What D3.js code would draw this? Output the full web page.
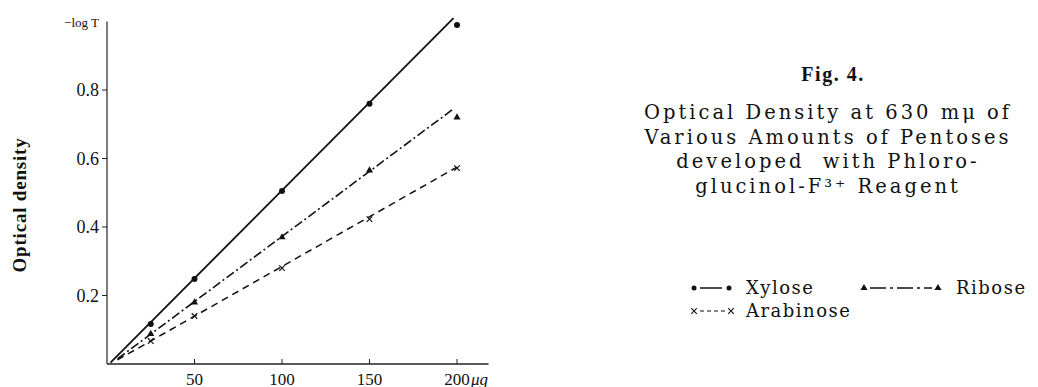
<!DOCTYPE html>
<html>
<head>
<meta charset="utf-8">
<script src="https://cdn.jsdelivr.net/npm/d3@7"></script>
<style>
  body { margin: 0; background: #fff; }
  svg { display: block; }
  text { font-family: "Liberation Serif", "DejaVu Serif", serif; fill: #111; }
  .cap { font-family: "DejaVu Serif", serif; }
</style>
</head>
<body>
<svg id="chart" width="1038" height="387"></svg>
<script>
const amounts = [25, 50, 100, 150, 200];
const xylose = [0.117, 0.248, 0.505, 0.76, 0.99];
const ribose = [0.088, 0.18, 0.37, 0.565, 0.72];
const arabinose = [0.067, 0.14, 0.28, 0.423, 0.572];

// drawn straight lines (start and end, in data units)
const xyloseFit = [[2, 0.004], [198, 1.01]];
const riboseFit = [[6, 0.015], [198, 0.745]];
const arabinoseFit = [[6, 0.012], [200, 0.575]];

const xTicks = [50, 100, 150, 200];
const yTicks = [0.2, 0.4, 0.6, 0.8];

const titleLines = [
    "Optical Density at 630 m\u03bc of",
    "Various Amounts of Pentoses",
    "developed  with Phloro-",
    "glucinol-F\u00b3\u207a Reagent"
];

const svg = d3.select('#chart');

const x = d3.scaleLinear().domain([0, 200]).range([107, 457]);
const y = d3.scaleLinear().domain([0, 1]).range([364, 21.5]);

// axes
svg.append('line')
    .attr('x1', x(0)).attr('x2', x(0))
    .attr('y1', y(0)).attr('y2', y(1))
    .attr('stroke', '#222').attr('stroke-width', 1.2);
svg.append('line')
    .attr('x1', x(0)).attr('x2', x(218))
    .attr('y1', y(0)).attr('y2', y(0))
    .attr('stroke', '#222').attr('stroke-width', 1.4);

svg.selectAll('.ytick')
    .data(yTicks)
    .enter().append('line')
    .attr('x1', x(0) - 5).attr('x2', x(0))
    .attr('y1', d => y(d)).attr('y2', d => y(d))
    .attr('stroke', '#222');

svg.selectAll('.ylab')
    .data(yTicks)
    .enter().append('text')
    .attr('x', x(0) - 8)
    .attr('y', d => y(d) + 6)
    .attr('text-anchor', 'end')
    .attr('font-size', 18)
    .text(d => d.toFixed(1));

svg.selectAll('.xtick')
    .data(xTicks)
    .enter().append('line')
    .attr('x1', d => x(d)).attr('x2', d => x(d))
    .attr('y1', y(0) - 5).attr('y2', y(0))
    .attr('stroke', '#222');

svg.selectAll('.xlab')
    .data(xTicks)
    .enter().append('text')
    .attr('x', d => x(d))
    .attr('y', 385)
    .attr('text-anchor', 'middle')
    .attr('font-size', 17)
    .text(d => d);

svg.append('text')
    .attr('x', x(200) + 14)
    .attr('y', 385)
    .attr('font-size', 17)
    .attr('font-style', 'italic')
    .text('\u03bcg');

svg.append('text')
    .attr('x', x(0) - 8)
    .attr('y', 27)
    .attr('text-anchor', 'end')
    .attr('font-size', 13)
    .attr('fill', '#444')
    .text('\u2212log T');

svg.append('text')
    .attr('transform', 'translate(26,205) rotate(-90)')
    .attr('text-anchor', 'middle')
    .attr('font-size', 19)
    .attr('font-weight', 'bold')
    .attr('letter-spacing', 0.8)
    .text('Optical density');

// lines
const line = d3.line().x(d => x(d[0])).y(d => y(d[1]));
svg.append('path').attr('d', line(xyloseFit))
    .attr('fill', 'none').attr('stroke', '#111').attr('stroke-width', 1.8);
svg.append('path').attr('d', line(riboseFit))
    .attr('fill', 'none').attr('stroke', '#111').attr('stroke-width', 1.6)
    .attr('stroke-dasharray', '9,3,2,3');
svg.append('path').attr('d', line(arabinoseFit))
    .attr('fill', 'none').attr('stroke', '#111').attr('stroke-width', 1.5)
    .attr('stroke-dasharray', '7,5');

// markers
svg.selectAll('.xy')
    .data(amounts)
    .enter().append('circle')
    .attr('cx', d => x(d))
    .attr('cy', (d, i) => y(xylose[i]))
    .attr('r', 3)
    .attr('fill', '#111');

const tri = d3.symbol().type(d3.symbolTriangle).size(22);
svg.selectAll('.ri')
    .data(amounts)
    .enter().append('path')
    .attr('d', tri)
    .attr('transform', (d, i) => `translate(${x(d)},${y(ribose[i])})`)
    .attr('fill', '#111');

const cross = d3.symbol().type(d3.symbolX).size(22);
svg.selectAll('.ar')
    .data(amounts)
    .enter().append('path')
    .attr('d', cross)
    .attr('transform', (d, i) => `translate(${x(d)},${y(arabinose[i])})`)
    .attr('stroke', '#111').attr('stroke-width', 1.2).attr('fill', 'none');

// caption
svg.append('text')
    .attr('x', 833).attr('y', 81)
    .attr('text-anchor', 'middle')
    .attr('font-size', 20)
    .attr('font-weight', 'bold')
    .attr('letter-spacing', 1.5)
    .text('Fig. 4.');

svg.selectAll('.capline')
    .data(titleLines)
    .enter().append('text')
    .attr('class', 'cap')
    .attr('x', 828)
    .attr('y', (d, i) => 119 + i * 24.5)
    .attr('text-anchor', 'middle')
    .attr('font-size', 19.5)
    .attr('letter-spacing', 3)
    .style('white-space', 'pre')
    .text(d => d);

// legend
const r1 = 288, r2 = 311;
const lg = svg.append('g');
lg.append('circle').attr('cx', 694).attr('cy', r1).attr('r', 2.5).attr('fill', '#111');
lg.append('line').attr('x1', 700).attr('x2', 722).attr('y1', r1).attr('y2', r1)
    .attr('stroke', '#111').attr('stroke-width', 1.5);
lg.append('circle').attr('cx', 729).attr('cy', r1).attr('r', 2.5).attr('fill', '#111');
lg.append('text').attr('class', 'cap').attr('x', 746).attr('y', r1 + 6).attr('font-size', 18)
    .attr('letter-spacing', 1.5).text('Xylose');

lg.append('path').attr('d', tri).attr('transform', `translate(864,${r1})`).attr('fill', '#111');
lg.append('line').attr('x1', 870).attr('x2', 932).attr('y1', r1).attr('y2', r1)
    .attr('stroke', '#111').attr('stroke-width', 1.3)
    .attr('stroke-dasharray', '16,4,3,4');
lg.append('path').attr('d', tri).attr('transform', `translate(938,${r1})`).attr('fill', '#111');
lg.append('text').attr('class', 'cap').attr('x', 956).attr('y', r1 + 6).attr('font-size', 18)
    .attr('letter-spacing', 1.5).text('Ribose');

lg.append('path').attr('d', cross).attr('transform', `translate(694,${r2})`)
    .attr('stroke', '#111').attr('stroke-width', 1.1).attr('fill', 'none');
lg.append('line').attr('x1', 700).attr('x2', 725).attr('y1', r2).attr('y2', r2)
    .attr('stroke', '#111').attr('stroke-width', 1.2)
    .attr('stroke-dasharray', '4,3');
lg.append('path').attr('d', cross).attr('transform', `translate(731,${r2})`)
    .attr('stroke', '#111').attr('stroke-width', 1.1).attr('fill', 'none');
lg.append('text').attr('class', 'cap').attr('x', 746).attr('y', r2 + 6).attr('font-size', 18)
    .attr('letter-spacing', 1.5).text('Arabinose');
</script>
</body>
</html>
